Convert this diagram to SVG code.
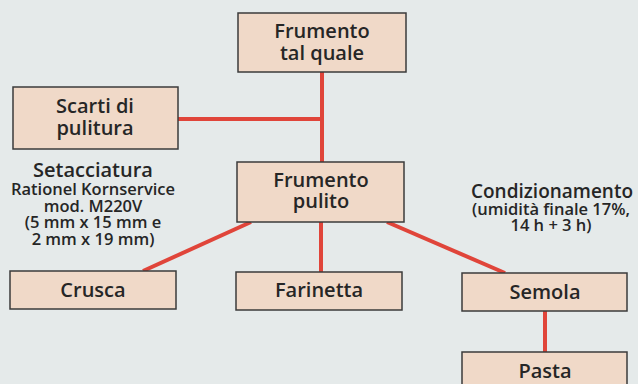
<svg xmlns="http://www.w3.org/2000/svg" width="638" height="384" viewBox="0 0 638 384">
<style>
.box{fill:#f0d9c8;stroke:#3b3b3b;stroke-width:1.5}
.t{font-family:"Open Sans","Liberation Sans",sans-serif;font-weight:600;font-size:20px;fill:#262626;text-anchor:middle}
.s{font-family:"Open Sans","Liberation Sans",sans-serif;font-weight:600;font-size:16.5px;fill:#262626;text-anchor:middle}
.c{stroke:#e0453a;stroke-width:4;fill:none}
</style>
<rect width="638" height="384" fill="#e5eaea"/>
<g id="connectors">
<line class="c" x1="322" y1="72" x2="322" y2="162"/>
<line class="c" x1="178" y1="119" x2="322" y2="119"/>
<line class="c" x1="251" y1="222" x2="143" y2="271"/>
<line class="c" x1="321" y1="222" x2="321" y2="272"/>
<line class="c" x1="387" y1="222" x2="505" y2="273"/>
<line class="c" x1="545" y1="311" x2="545" y2="352"/>
</g>
<g id="frumento-tal-quale">
<rect class="box" x="238" y="13" width="168" height="59"/>
<text class="t" x="322" y="38">Frumento</text>
<text class="t" x="322" y="60">tal quale</text>
</g>
<g id="scarti">
<rect class="box" x="13" y="87" width="165" height="62"/>
<text class="t" x="95" y="113">Scarti di</text>
<text class="t" x="95" y="135">pulitura</text>
</g>
<g id="setacciatura">
<text class="t" x="93" y="177">Setacciatura</text>
<text class="s" x="93" y="195">Rationel Kornservice</text>
<text class="s" x="93" y="212">mod. M220V</text>
<text class="s" x="93" y="228">(5 mm x 15 mm e</text>
<text class="s" x="93" y="245">2 mm x 19 mm)</text>
</g>
<g id="frumento-pulito">
<rect class="box" x="237" y="162" width="167" height="60"/>
<text class="t" x="321" y="187">Frumento</text>
<text class="t" x="321" y="208">pulito</text>
</g>
<g id="condizionamento">
<text class="t" x="552" y="198" textLength="162" lengthAdjust="spacingAndGlyphs">Condizionamento</text>
<text class="s" x="551" y="215">(umidità finale 17%,</text>
<text class="s" x="551" y="231">14 h + 3 h)</text>
</g>
<g id="crusca">
<rect class="box" x="10" y="271" width="166" height="38"/>
<text class="t" x="93" y="297">Crusca</text>
</g>
<g id="farinetta">
<rect class="box" x="236" y="272" width="166" height="38"/>
<text class="t" x="319" y="297">Farinetta</text>
</g>
<g id="semola">
<rect class="box" x="462" y="273" width="165" height="38"/>
<text class="t" x="545" y="299">Semola</text>
</g>
<g id="pasta">
<rect class="box" x="462" y="352" width="165" height="45"/>
<text class="t" x="545" y="378">Pasta</text>
</g>
</svg>
